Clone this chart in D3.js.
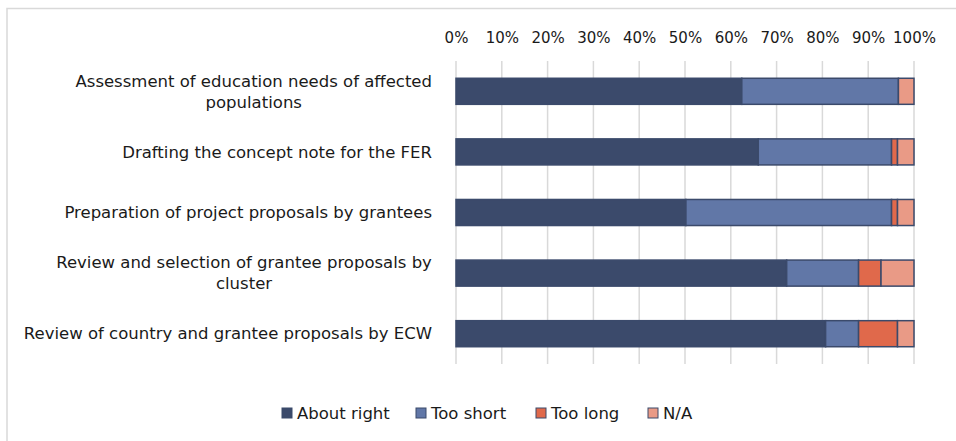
<!DOCTYPE html>
<html>
<head>
<meta charset="utf-8">
<script src="https://cdn.jsdelivr.net/npm/d3@7"></script>
<style>
  body { margin: 0; background: #fff; }
  svg text { font-family: "DejaVu Sans", Verdana, sans-serif; fill: #1a1a1a; }
</style>
</head>
<body>
<div id="chart"></div>
<script>
'use strict';

// categories, top to bottom ("\n" marks where the label wraps)
var categories = [
	'Assessment of education needs of affected\npopulations',
	'Drafting the concept note for the FER',
	'Preparation of project proposals by grantees',
	'Review and selection of grantee proposals by\ncluster',
	'Review of country and grantee proposals by ECW'
];
var seriesNames = ['About right', 'Too short', 'Too long', 'N/A'];
var aboutRight = [62.4, 66.0, 50.2, 72.2, 80.7];
var tooShort   = [34.2, 29.1, 44.9, 15.7, 7.2];
var tooLong    = [0.0, 1.3, 1.3, 4.9, 8.5];
var notApplic  = [3.4, 3.6, 3.6, 7.2, 3.6];
var tickValues = [0, 10, 20, 30, 40, 50, 60, 70, 80, 90, 100];
var colors = ['#3b4a6b', '#6177a7', '#e0694b', '#e99a86'];

var width = 956, height = 441;
var margin = {top: 61, right: 42, bottom: 77, left: 456};
var fontSize = 16.5;

var svg = d3.select('#chart').append('svg')
	.attr('width', width)
	.attr('height', height);

// outer chart frame (only left and top edges fall inside the picture)
svg.append('rect')
	.attr('x', 7).attr('y', 8.5)
	.attr('width', width + 20).attr('height', height + 20)
	.attr('fill', 'none')
	.attr('stroke', '#d9d9d9')
	.attr('stroke-width', 1.5);

var x = d3.scaleLinear().domain([0, 100]).range([margin.left, width - margin.right]);
var y = d3.scaleBand().domain(d3.range(categories.length))
	.range([margin.top, height - margin.bottom])
	.paddingInner(0.57).paddingOuter(0.285);

// gridlines
svg.append('g')
	.selectAll('line')
	.data(tickValues)
	.enter().append('line')
	.attr('x1', function(d) { return x(d); })
	.attr('x2', function(d) { return x(d); })
	.attr('y1', margin.top)
	.attr('y2', height - margin.bottom)
	.attr('stroke', '#d9d9d9')
	.attr('stroke-width', 1.5);

// top axis labels
var xAxis = d3.axisTop(x).tickValues(tickValues)
	.tickFormat(function(d) { return d + '%'; })
	.tickSize(0).tickPadding(0);
var axisG = svg.append('g')
	.attr('transform', 'translate(0,43)')
	.call(xAxis);
axisG.select('.domain').remove();
axisG.selectAll('text')
	.attr('font-size', 15)
	.style('font-family', '"DejaVu Sans", Verdana, sans-serif')
	.attr('fill', '#1a1a1a');

// stack data
var rows = categories.map(function(c, i) {
	return {i: i, v0: aboutRight[i], v1: tooShort[i], v2: tooLong[i], v3: notApplic[i]};
});
var stack = d3.stack().keys(['v0', 'v1', 'v2', 'v3']);
var layers = stack(rows);

var layerG = svg.append('g')
	.selectAll('g')
	.data(layers)
	.enter().append('g')
	.attr('fill', function(d, k) { return colors[k]; });

layerG.selectAll('rect')
	.data(function(d) { return d.filter(function(s) { return s[1] - s[0] > 0; }); })
	.enter().append('rect')
	.attr('x', function(d) { return x(d[0]); })
	.attr('width', function(d) { return x(d[1]) - x(d[0]); })
	.attr('y', function(d) { return y(d.data.i); })
	.attr('height', y.bandwidth())
	.attr('stroke', '#3b4a6b')
	.attr('stroke-width', 1.5);

// category labels
var labelRight = margin.left - 24;
var labelG = svg.append('g');
categories.forEach(function(c, i) {
	var lines = c.split('\n');
	var cy = y(i) + y.bandwidth() / 2;
	var t = labelG.append('text')
		.attr('font-size', fontSize);
	lines.forEach(function(line, k) {
		t.append('tspan')
			.attr('x', 0)
			.attr('y', cy + (k - (lines.length - 1) / 2) * 21)
			.attr('dy', '0.35em')
			.text(line);
	});
	if (lines.length === 1) {
		t.attr('text-anchor', 'end').attr('transform', 'translate(' + labelRight + ',0)');
	} else {
		var w = t.node().getBBox().width;
		t.attr('text-anchor', 'middle').attr('transform', 'translate(' + (labelRight - w / 2) + ',0)');
	}
});

// legend
var legendX = [282, 416, 536, 648];
var legend = svg.append('g')
	.selectAll('g')
	.data(seriesNames)
	.enter().append('g')
	.attr('transform', function(d, k) { return 'translate(' + legendX[k] + ',408)'; });
legend.append('rect')
	.attr('width', 10).attr('height', 10)
	.attr('fill', function(d, k) { return colors[k]; })
	.attr('stroke', '#3b4a6b')
	.attr('stroke-width', 1);
legend.append('text')
	.attr('x', 15).attr('y', 5).attr('dy', '0.35em')
	.attr('font-size', fontSize)
	.text(function(d) { return d; });
</script>
</body>
</html>
